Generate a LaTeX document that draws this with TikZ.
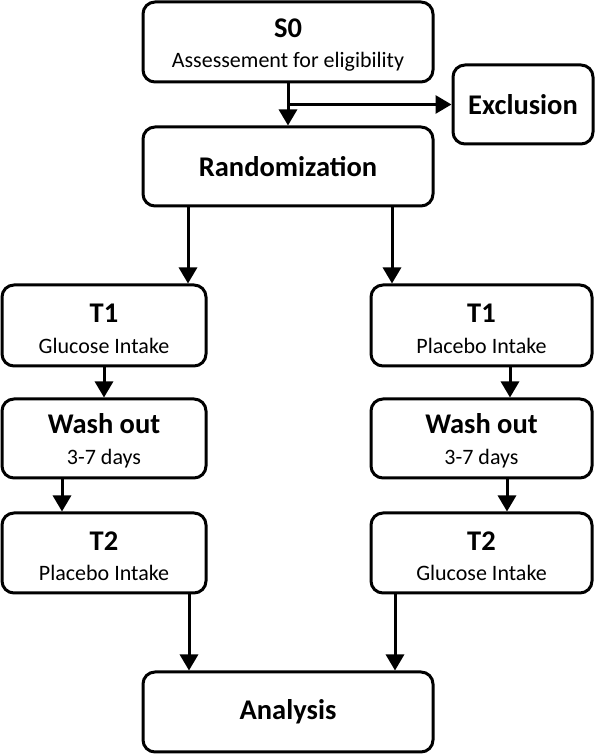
\documentclass[tikz,border=0pt]{standalone}
\usepackage{fontspec}
\setmainfont{Carlito}
\usetikzlibrary{arrows.meta, positioning}

\tikzset{
  stage/.style={draw, line width=3pt, rounded corners=12pt, align=center, inner sep=0pt},
  arr/.style={line width=3pt, -{Triangle[width=18pt,length=16pt]}}
}
\newcommand{\hd}[1]{{\fontsize{28.5}{30}\selectfont\bfseries #1}}
\newcommand{\smalltxt}[1]{{\fontsize{22}{24}\selectfont #1}}
\newcommand{\twoline}[2]{\rule{0pt}{25pt}\hd{#1}\\[14pt]\smalltxt{#2}}

\begin{document}
\begin{tikzpicture}[x=1pt, y=1pt]
  %flow chart, cross-over study
    \useasboundingbox (0,0) rectangle (595,754);
    \def\lc{104}
    \def\rc{481.5}
    \node[stage, minimum width=290pt, minimum height=80pt] (s0) at (288,712) {\twoline{S0}{Assessement for eligibility}};
    \node[stage, minimum width=140pt, minimum height=79pt] (exc) at (523,649.5) {\hd{Exclusion}};
    \node[stage, minimum width=290pt, minimum height=79pt] (rand) at (288,587.5) {\hd{Randomization}};
    \node[stage, minimum width=204pt, minimum height=81pt] (t1g) at (\lc,428.5) {\twoline{T1}{Glucose Intake}};
    \node[stage, minimum width=221pt, minimum height=81pt] (t1p) at (\rc,428.5) {\twoline{T1}{Placebo Intake}};
    \node[stage, minimum width=204pt, minimum height=79pt] (wl) at (\lc,315.5) {\twoline{Wash out}{3-7 days}};
    \node[stage, minimum width=221pt, minimum height=79pt] (wr) at (\rc,315.5) {\twoline{Wash out}{3-7 days}};
    \node[stage, minimum width=204pt, minimum height=80pt] (t2p) at (\lc,201) {\twoline{T2}{Placebo Intake}};
    \node[stage, minimum width=221pt, minimum height=80pt] (t2g) at (\rc,201) {\twoline{T2}{Glucose Intake}};
    \node[stage, minimum width=290pt, minimum height=80pt] (ana) at (288,42) {\hd{Analysis}};
    \draw[arr] (s0.south) -- (rand.north);
    \draw[arr] (s0.south |- exc.west) -- (exc.west);
    \draw[arr] ([xshift=-100pt]rand.south) -- ([xshift=-100pt]rand.south |- t1g.north);
    \draw[arr] ([xshift=104pt]rand.south) -- ([xshift=104pt]rand.south |- t1p.north);
    \draw[arr] (t1g.south) -- (wl.north);
    \draw[arr] ([xshift=28.5pt]t1p.south) -- ([xshift=28.5pt]wr.north);
    \draw[arr] ([xshift=-42pt]wl.south) -- ([xshift=-42pt]t2p.north);
    \draw[arr] ([xshift=25.5pt]wr.south) -- ([xshift=25.5pt]t2g.north);
    \draw[arr] ([xshift=-99pt]ana.north |- t2p.south) -- ([xshift=-99pt]ana.north);
    \draw[arr] ([xshift=107pt]ana.north |- t2g.south) -- ([xshift=107pt]ana.north);
  \end{tikzpicture}
\end{document}
